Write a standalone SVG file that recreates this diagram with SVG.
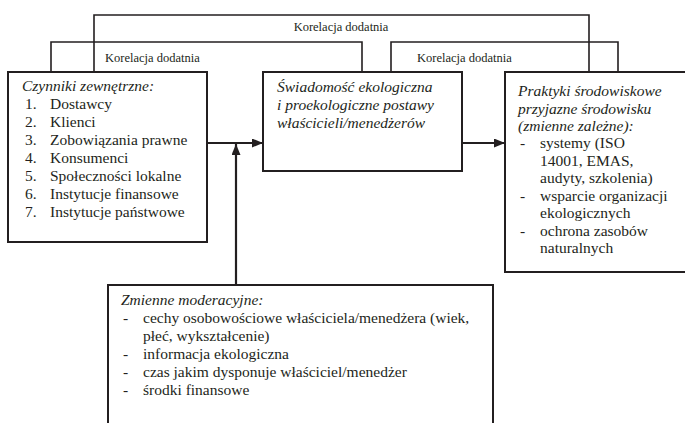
<svg xmlns="http://www.w3.org/2000/svg" width="685" height="423" viewBox="0 0 685 423">
<defs>
<style>
text{font-family:"Liberation Serif","Times New Roman",serif;fill:#231f20}
.t{font-size:15.5px}
.i{font-style:italic}
.lab{font-size:12.5px}
.box{fill:#fff;stroke:#231f20;stroke-width:2}
.br{fill:none;stroke:#231f20;stroke-width:1.6}
.ar{fill:none;stroke:#231f20;stroke-width:2.2}
</style>
<marker id="ah" markerUnits="userSpaceOnUse" markerWidth="12" markerHeight="10" refX="11" refY="4.5" orient="auto">
<path d="M0,0 L11,4.5 L0,9 z" fill="#231f20"/>
</marker>
</defs>
<g id="connectors">
<path class="br" d="M94,72 V15 H589 V72"/>
<path class="br" d="M51,72 V42 H362 V72"/>
<path class="br" d="M391,72 V42 H618 V72"/>
<text class="lab" x="341" y="31" text-anchor="middle">Korelacja dodatnia</text>
<text class="lab" x="105" y="62">Korelacja dodatnia</text>
<text class="lab" x="417" y="62">Korelacja dodatnia</text>
<line class="ar" x1="207" y1="143" x2="263" y2="143" marker-end="url(#ah)"/>
<line class="ar" x1="462" y1="143" x2="505" y2="143" marker-end="url(#ah)"/>
<line class="ar" x1="236" y1="285" x2="236" y2="144" marker-end="url(#ah)"/>
</g>
<g id="czynniki">
<rect class="box" x="8" y="72" width="199" height="170"/>
<text class="t i" x="22" y="91">Czynniki zewnętrzne:</text>
<g class="t">
<text x="25" y="109">1.</text><text x="50" y="109">Dostawcy</text>
<text x="25" y="127">2.</text><text x="50" y="127">Klienci</text>
<text x="25" y="145">3.</text><text x="50" y="145">Zobowiązania prawne</text>
<text x="25" y="163">4.</text><text x="50" y="163">Konsumenci</text>
<text x="25" y="181">5.</text><text x="50" y="181">Społeczności lokalne</text>
<text x="25" y="199">6.</text><text x="50" y="199">Instytucje finansowe</text>
<text x="25" y="217">7.</text><text x="50" y="217">Instytucje państwowe</text>
</g>
</g>
<g id="swiadomosc">
<rect class="box" x="263" y="72" width="199" height="99"/>
<text class="t i" x="277" y="92">Świadomość ekologiczna</text>
<text class="t i" x="277" y="110">i proekologiczne postawy</text>
<text class="t i" x="277" y="128">właścicieli/menedżerów</text>
</g>
<g id="praktyki">
<rect class="box" x="505" y="72" width="184" height="200"/>
<text class="t i" x="518" y="96">Praktyki środowiskowe</text>
<text class="t i" x="518" y="113.5">przyjazne środowisku</text>
<text class="t i" x="518" y="131">(zmienne zależne):</text>
<g class="t">
<text x="520" y="148">-</text><text x="540" y="148">systemy (ISO</text>
<text x="540" y="165.5">14001, EMAS,</text>
<text x="540" y="183">audyty, szkolenia)</text>
<text x="520" y="200.5">-</text><text x="540" y="200.5">wsparcie organizacji</text>
<text x="540" y="218">ekologicznych</text>
<text x="520" y="235.5">-</text><text x="540" y="235.5">ochrona zasobów</text>
<text x="540" y="253">naturalnych</text>
</g>
</g>
<g id="moderacyjne">
<rect class="box" x="108" y="285" width="385" height="145"/>
<text class="t i" x="121" y="305">Zmienne moderacyjne:</text>
<g class="t">
<text x="123" y="323">-</text><text x="143" y="323">cechy osobowościowe właściciela/menedżera (wiek,</text>
<text x="143" y="341">płeć, wykształcenie)</text>
<text x="123" y="359">-</text><text x="143" y="359">informacja ekologiczna</text>
<text x="123" y="377">-</text><text x="143" y="377">czas jakim dysponuje właściciel/menedżer</text>
<text x="123" y="395">-</text><text x="143" y="395">środki finansowe</text>
</g>
</g>
</svg>
